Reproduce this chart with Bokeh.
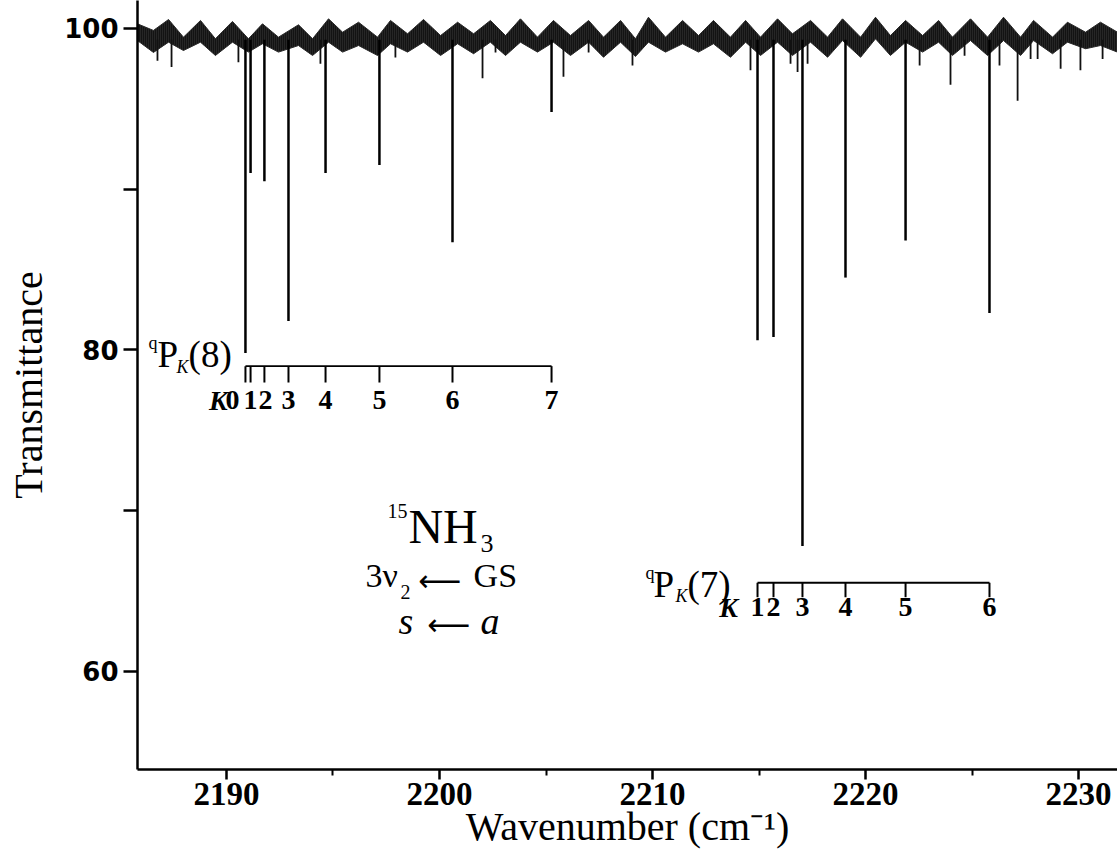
from bokeh.plotting import figure
from bokeh.models import FixedTicker, Range1d, ColumnDataSource
from bokeh.core.properties import value
from bokeh.embed import file_html
from bokeh.resources import INLINE

# ---------------- data ----------------
# envelope of the noisy baseline (fringe maxima / minima)
base_wn = [2185.82, 2186.57, 2187.28, 2187.98, 2188.78, 2189.48, 2190.28, 2191.03, 2191.69, 2192.44,
           2193.38, 2194.04, 2194.79, 2195.45, 2196.20, 2197.09, 2197.70, 2198.50, 2199.25, 2200.05,
           2200.85, 2201.60, 2202.39, 2203.10, 2203.80, 2204.60, 2205.35, 2206.15, 2207.00, 2207.70,
           2208.50, 2209.20, 2209.81, 2210.61, 2211.41, 2212.16, 2212.86, 2213.66, 2214.37, 2215.07,
           2215.87, 2216.57, 2217.42, 2218.22, 2218.92, 2219.77, 2220.47, 2221.17, 2221.88, 2222.68,
           2223.43, 2224.08, 2224.93, 2225.73, 2226.48, 2227.28, 2227.89, 2228.78, 2229.48, 2230.33,
           2231.03, 2231.83]
base_upper = [100.29, 99.88, 100.56, 99.46, 100.50, 99.36, 100.44, 99.36, 100.29, 99.46,
              100.23, 99.36, 100.60, 99.77, 100.39, 99.46, 100.50, 99.67, 100.56, 99.56,
              100.39, 99.67, 100.50, 99.56, 100.60, 99.46, 100.50, 99.56, 100.50, 99.46,
              100.50, 99.36, 100.70, 99.46, 100.50, 99.56, 100.50, 99.46, 100.50, 99.46,
              100.60, 99.67, 100.50, 99.46, 100.60, 99.46, 100.70, 99.56, 100.50, 99.56,
              100.50, 99.46, 100.60, 99.46, 100.70, 99.46, 100.50, 99.46, 100.39, 99.77,
              100.39, 99.77]
base_lower = [99.25, 98.51, 99.15, 98.63, 99.15, 98.32, 99.15, 98.53, 99.05, 98.53,
              98.94, 98.32, 99.15, 98.53, 98.94, 98.32, 99.05, 98.53, 99.15, 98.32,
              99.05, 98.43, 99.15, 98.32, 99.15, 98.53, 99.15, 98.32, 99.15, 98.21,
              99.15, 98.26, 99.15, 98.53, 99.05, 98.53, 99.05, 98.21, 99.15, 98.32,
              99.15, 98.32, 99.15, 98.21, 99.25, 98.21, 99.36, 98.32, 99.15, 98.53,
              99.15, 98.32, 99.25, 98.32, 99.25, 98.32, 99.25, 98.43, 99.15, 98.74,
              98.94, 98.53]

# qP_K(8) lines
p8_K = ["0", "1", "2", "3", "4", "5", "6", "7"]
p8_wn = [2190.89, 2191.13, 2191.78, 2192.91, 2194.65, 2197.18, 2200.61, 2205.26]
p8_min = [79.8, 91.0, 90.5, 81.8, 91.0, 91.5, 86.7, 94.8]

# qP_K(7) lines
p7_K = ["1", "2", "3", "4", "5", "6"]
p7_wn = [2214.93, 2215.68, 2217.04, 2219.06, 2221.88, 2225.82]
p7_min = [80.6, 80.8, 67.8, 84.5, 86.8, 82.3]

# weak unassigned dips
weak_wn = [2186.76, 2187.42, 2190.56, 2194.41, 2197.93, 2202.02, 2202.63, 2205.82, 2207.00, 2209.06,
           2214.60, 2216.48, 2216.81, 2217.28, 2222.54, 2223.99, 2224.65, 2226.29, 2227.14, 2227.75,
           2228.08, 2229.16, 2230.09, 2231.13]
weak_min = [98.0, 97.6, 97.9, 97.8, 98.2, 96.9, 98.5, 97.0, 98.5, 97.7,
            97.4, 97.8, 97.3, 97.8, 97.7, 96.5, 98.3, 97.7, 95.5, 98.1,
            98.1, 97.5, 97.4, 98.1]

x_ticks = [2190, 2200, 2210, 2220, 2230]
x_minor = [2195, 2205, 2215, 2225]
y_ticks = [60, 80, 100]
y_minor = [70, 90]

# ---------------- figure ----------------
SERIF = "Liberation Serif"
LINE_TOP = 99.3

p = figure(frame_width=980, frame_height=769,
           x_range=Range1d(2185.822, 2231.83), y_range=Range1d(53.889, 101.742),
           output_backend="svg", toolbar_location=None,
           min_border_left=137, min_border_right=0, min_border_top=0, min_border_bottom=81)
p.outline_line_color = None
p.grid.visible = False
p.background_fill_color = "white"
p.border_fill_color = "white"

# baseline band (noisy trace drawn as a textured band)
p.varea(x=base_wn, y1=base_lower, y2=base_upper, fill_color="#262626", fill_alpha=1.0,
        hatch_pattern="vertical_line", hatch_color="black", hatch_scale=2, hatch_weight=1)
p.line(x=base_wn, y=base_upper, line_color="#2a2a2a", line_width=1)
p.line(x=base_wn, y=base_lower, line_color="#2a2a2a", line_width=1)

# absorption lines
p.segment(x0=weak_wn, y0=weak_min, x1=weak_wn, y1=[LINE_TOP] * len(weak_wn),
          line_color="#111111", line_width=1.8)
p.segment(x0=p8_wn, y0=p8_min, x1=p8_wn, y1=[LINE_TOP] * len(p8_wn),
          line_color="black", line_width=2.5)
p.segment(x0=p7_wn, y0=p7_min, x1=p7_wn, y1=[LINE_TOP] * len(p7_wn),
          line_color="black", line_width=2.5)


def put(x, y, txt, size, style="normal", align="left", font=SERIF, x_off=0):
    p.text(x=[x], y=[y], text=[txt], text_font=value(font), text_font_size=value(size),
           text_font_style=style, text_align=align, text_baseline="middle",
           text_color="black", x_offset=x_off)


def comb(wn, labels, y_line, y_tick, y_lab, offsets, k_off):
    p.segment(x0=[wn[0]], y0=[y_line], x1=[wn[-1]], y1=[y_line], line_color="black", line_width=1.8)
    p.segment(x0=wn, y0=[y_line] * len(wn), x1=wn, y1=[y_tick] * len(wn),
              line_color="black", line_width=2)
    src = ColumnDataSource(dict(x=wn, y=[y_lab] * len(wn), t=labels, o=offsets))
    p.text(x="x", y="y", text="t", x_offset="o", source=src, text_font=value(SERIF),
           text_font_size=value("28px"), text_font_style="bold", text_align="center",
           text_baseline="middle", text_color="black")
    put(wn[0], y_lab, "K", "28px", style="bold italic", align="center", x_off=k_off)


# qP_K(8) comb
comb(p8_wn, p8_K, 78.99, 77.97, 76.88, [-13, 0, 1, 0, 0, 0, 0, 0], -27)
put(2186.34, 80.40, "q", "18px")
put(2186.76, 79.69, "P", "37px")
put(2187.65, 78.91, "K", "18px", style="italic")
put(2188.22, 79.69, "(8)", "37px")

# qP_K(7) comb
comb(p7_wn, p7_K, 65.51, 64.61, 64.00, [0, 0, 0, 0, 0, 0], -29)
put(2209.67, 66.09, "q", "18px")
put(2210.05, 65.38, "P", "37px")
put(2211.08, 64.66, "K", "18px", style="italic")
put(2211.64, 65.38, "(7)", "37px")

# molecule / band text
put(2198.50, 69.99, "15", "20px", align="right")
put(2198.54, 69.03, "NH", "48px")
put(2201.92, 67.94, "3", "26px")
put(2196.53, 65.94, "3ν", "34px")
put(2198.17, 64.95, "2", "20px")
put(2199.01, 65.65, "⟵", "30px", font="DejaVu Sans")
put(2201.60, 65.94, "GS", "34px")
put(2198.08, 63.15, "s", "38px", style="italic")
put(2199.44, 62.91, "⟵", "30px", font="DejaVu Sans")
put(2201.92, 63.15, "a", "38px", style="italic")

# ---------------- axes ----------------
xa = p.xaxis[0]
xa.ticker = FixedTicker(ticks=x_ticks, minor_ticks=x_minor)
xa.axis_line_width = 2.5
xa.major_tick_line_width = 2.5
xa.minor_tick_line_width = 2
xa.major_tick_in = 0
xa.major_tick_out = 10
xa.minor_tick_in = 0
xa.minor_tick_out = 6
xa.major_label_text_font = "Liberation Sans Narrow"
xa.major_label_text_font_size = "33px"
xa.major_label_text_font_style = "bold"
xa.major_label_text_color = "black"
xa.major_label_standoff = 3
xa.axis_label = "Wavenumber (cm⁻¹)"
xa.axis_label_text_font = SERIF
xa.axis_label_text_font_size = "40px"
xa.axis_label_text_font_style = "normal"
xa.axis_label_text_color = "black"
xa.axis_label_standoff = -4

ya = p.yaxis[0]
ya.ticker = FixedTicker(ticks=y_ticks, minor_ticks=y_minor)
ya.axis_line_width = 2.5
ya.major_tick_line_width = 2.5
ya.minor_tick_line_width = 2.5
ya.major_tick_in = 0
ya.major_tick_out = 14
ya.minor_tick_in = 0
ya.minor_tick_out = 14
ya.major_label_text_font = "DejaVu Sans"
ya.major_label_text_font_size = "26px"
ya.major_label_text_font_style = "bold"
ya.major_label_text_color = "black"
ya.major_label_standoff = 5
ya.axis_label = "Transmittance"
ya.axis_label_text_font = SERIF
ya.axis_label_text_font_size = "40px"
ya.axis_label_text_font_style = "normal"
ya.axis_label_text_color = "black"
ya.axis_label_standoff = 10

open("out.html", "w").write(file_html(p, INLINE))
